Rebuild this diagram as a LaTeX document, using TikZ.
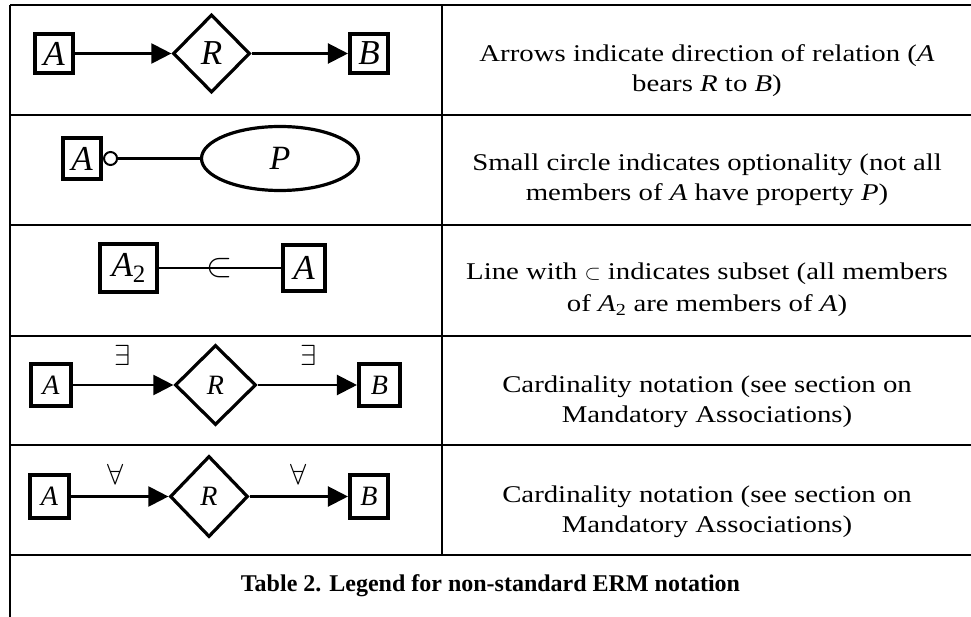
\documentclass[tikz,border=0pt]{standalone}
\usepackage{fontspec}
\setmainfont{Liberation Serif}[ItalicFont={Liberation Serif Italic},BoldFont={Liberation Serif Bold}]
\newfontfamily\bodyfont[FakeStretch=1.2]{Liberation Serif}
\usetikzlibrary{shapes.geometric,arrows.meta}
\begin{document}
\begin{tikzpicture}[x=1pt,y=-1pt,
  ent/.style={draw,line width=3.6pt,inner sep=0pt,font=\fontsize{35}{35}\selectfont\itshape},
  entsm/.style={ent,font=\fontsize{28}{28}\selectfont\itshape},
  rel/.style={draw,diamond,aspect=1,line width=3.2pt,inner sep=0pt,font=\fontsize{35}{35}\selectfont\itshape},
  relsm/.style={rel,font=\fontsize{28}{28}\selectfont\itshape},
  conn/.style={line width=2.2pt},
  arr/.style={conn,-{Triangle[length=20pt,width=20pt]}},
  tline/.style={line width=2.4pt},
  txt/.style={anchor=base,inner sep=0pt,font=\bodyfont\fontsize{24}{30}\selectfont},
  quant/.style={inner sep=0pt,font=\fontsize{20.74}{20.74}\selectfont},
  caption/.style={anchor=base,inner sep=0pt,font=\fontsize{24}{30}\selectfont\bfseries}
]
\useasboundingbox (0,0) rectangle (971,617);

% table rules
\draw[tline] (10,5) -- (971,5);
\draw[tline] (10,115) -- (971,115);
\draw[tline] (10,225) -- (971,225);
\draw[tline] (10,336) -- (971,336);
\draw[tline] (10,445) -- (971,445);
\draw[tline] (10,555) -- (971,555);
\draw[tline] (10,5) -- (10,617);
\draw[tline] (442,5) -- (442,555);

% row 1
\node[ent,minimum width=38.5pt,minimum height=39.5pt] (a1) at (54,53.5) {A};
\node[rel,minimum width=77pt,minimum height=78pt] (r1) at (211.5,53.5) {R};
\node[ent,minimum width=38.5pt,minimum height=39.5pt] (b1) at (369,53.5) {B};
\draw[arr] (a1.east) -- (r1.west);
\draw[arr] (r1.east) -- (b1.west);

% row 2
\node[ent,minimum width=38.5pt,minimum height=41.5pt] (a2) at (82,158.5) {A};
\node[draw,circle,line width=2pt,minimum size=13pt,inner sep=0pt,anchor=west] (o2) at (a2.east) {};
\node[draw,ellipse,line width=3.2pt,minimum width=157pt,minimum height=64pt,inner sep=0pt,font=\fontsize{34}{34}\selectfont\itshape] (p2) at (280,158.5) {P};
\draw[conn] (o2.east) -- (p2.west);

% row 3
\node[ent,minimum width=57.5pt,minimum height=48.5pt] (a23) at (128.5,268) {A\raisebox{-6pt}{\upshape\fontsize{25}{25}\selectfont 2}};
\node[ent,minimum width=42.5pt,minimum height=45.5pt] (a3) at (304,268) {A};
\draw[conn] (a23.east) -- (a3.west);
\node[inner sep=0pt,font=\fontsize{24.88}{24.88}\selectfont] (sub3) at (220,268) {\scalebox{1.35}{$\subset$}};

% row 4
\node[entsm,minimum width=40.5pt,minimum height=41.5pt] (a4) at (51,385) {A};
\node[relsm,minimum width=81pt,minimum height=80pt] (r4) at (215.5,385) {R};
\node[entsm,minimum width=41.5pt,minimum height=41.5pt] (b4) at (379.5,385) {B};
\draw[arr] (a4.east) -- (r4.west);
\draw[arr] (r4.east) -- (b4.west);
\node[quant] (e4a) at (122.5,355) {\scalebox{1.4}{$\exists$}};
\node[quant] (e4b) at (308.5,355) {\scalebox{1.4}{$\exists$}};

% row 5
\node[entsm,minimum width=39.5pt,minimum height=43.5pt] (a5) at (49.5,496.5) {A};
\node[relsm,minimum width=78pt,minimum height=81pt] (r5) at (209,496.5) {R};
\node[entsm,minimum width=38.5pt,minimum height=43.5pt] (b5) at (369,496.5) {B};
\draw[arr] (a5.east) -- (r5.west);
\draw[arr] (r5.east) -- (b5.west);
\node[quant] (f5a) at (116,474) {\scalebox{1.4}{$\forall$}};
\node[quant] (f5b) at (299,474) {\scalebox{1.4}{$\forall$}};

% descriptions
\node[txt] (t1a) at (707,62) {Arrows indicate direction of relation (\textit{A}};
\node[txt] (t1b) at (707,92) {bears \textit{R} to \textit{B})};
\node[txt] (t2a) at (707,171) {Small circle indicates optionality (not all};
\node[txt] (t2b) at (707,201) {members of \textit{A} have property \textit{P})};
\node[txt] (t3a) at (707,280) {Line with {\fontsize{20.74}{20.74}\selectfont$\subset$} indicates subset (all members};
\node[txt] (t3b) at (707,312) {of \textit{A}\textsubscript{2} are members of \textit{A})};
\node[txt] (t4a) at (707,392) {Cardinality notation (see section on};
\node[txt] (t4b) at (707,422) {Mandatory Associations)};
\node[txt] (t5a) at (707,502) {Cardinality notation (see section on};
\node[txt] (t5b) at (707,532) {Mandatory Associations)};

\node[caption] (cap) at (490.5,591) {Table 2. Legend for non-standard ERM notation};
\end{tikzpicture}
\end{document}
